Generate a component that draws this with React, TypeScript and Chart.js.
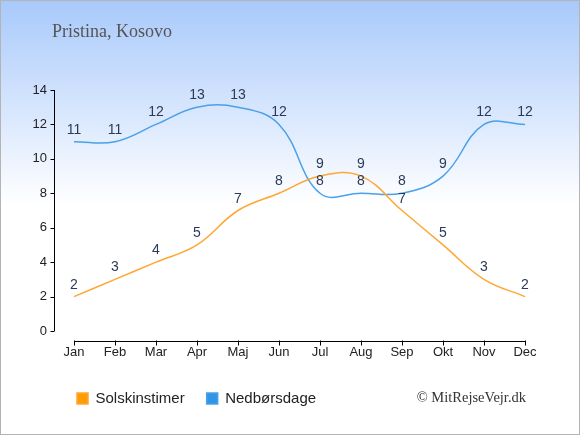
import { useEffect, useRef } from "react";
import { Chart, registerables } from "chart.js";

Chart.register(...registerables);

const months = ["Jan", "Feb", "Mar", "Apr", "Maj", "Jun", "Jul", "Aug", "Sep", "Okt", "Nov", "Dec"];
const sunHours = [2, 3, 4, 5, 7, 8, 9, 9, 7, 5, 3, 2];
const rainDays = [11, 11, 12, 13, 13, 12, 8, 8, 8, 9, 12, 12];
const yTicks = [0, 2, 4, 6, 8, 10, 12, 14];

const ORANGE = "#ffa733";
const BLUE = "#4aa0ea";
const SANS = "Arial, 'Liberation Sans', sans-serif";

// background, frame, title and copyright
const decorPlugin = {
  id: "decor",
  beforeDraw(chart: Chart) {
    const { ctx, width, height } = chart;
    ctx.save();
    const g = ctx.createLinearGradient(0, 0, 0, height);
    g.addColorStop(0, "#a8c9fb");
    g.addColorStop(0.47, "#ffffff");
    g.addColorStop(1, "#ffffff");
    ctx.fillStyle = g;
    ctx.fillRect(0, 0, width, height);
    ctx.strokeStyle = "#b4b4b4";
    ctx.lineWidth = 1;
    ctx.strokeRect(0.5, 0.5, width - 1, height - 1);
    ctx.fillStyle = "#555555";
    ctx.font = "18px 'Liberation Serif', serif";
    ctx.textBaseline = "alphabetic";
    ctx.textAlign = "left";
    ctx.fillText("Pristina, Kosovo", 52, 37);
    ctx.fillStyle = "#333333";
    ctx.font = "14.5px 'Liberation Serif', serif";
    ctx.textAlign = "right";
    ctx.fillText("\u00a9 MitRejseVejr.dk", 526, 402);
    ctx.restore();
  },
};

// axis lines that run from first to last tick, set off from the plot area
const axesPlugin = {
  id: "axes",
  afterDraw(chart: Chart) {
    const { ctx, scales, chartArea } = chart;
    const x = scales.x;
    const y = scales.y;
    const axisX = chartArea.left - 19.5;
    const axisY = chartArea.bottom + 10.5;
    ctx.save();
    ctx.strokeStyle = "#000000";
    ctx.lineWidth = 1;
    ctx.beginPath();
    ctx.moveTo(axisX, y.getPixelForValue(14));
    ctx.lineTo(axisX, y.getPixelForValue(0));
    yTicks.forEach((v) => {
      const py = Math.round(y.getPixelForValue(v)) + 0.5;
      ctx.moveTo(axisX - 4, py);
      ctx.lineTo(axisX, py);
    });
    ctx.moveTo(x.getPixelForValue(0), axisY);
    ctx.lineTo(x.getPixelForValue(months.length - 1), axisY);
    months.forEach((_, i) => {
      const px = Math.round(x.getPixelForValue(i)) + 0.5;
      ctx.moveTo(px, axisY - 1);
      ctx.lineTo(px, axisY + 4);
    });
    ctx.stroke();
    ctx.restore();
  },
};

// value labels above every point
const valueLabels = {
  id: "valueLabels",
  afterDatasetsDraw(chart: Chart) {
    const { ctx } = chart;
    ctx.save();
    ctx.fillStyle = "#2b3a58";
    ctx.font = "14px " + SANS;
    ctx.textAlign = "center";
    ctx.textBaseline = "alphabetic";
    chart.data.datasets.forEach((ds, di) => {
      const meta = chart.getDatasetMeta(di);
      meta.data.forEach((pt, i) => {
        ctx.fillText(String(ds.data[i]), pt.x, pt.y - 8);
      });
    });
    ctx.restore();
  },
};

export default function App() {
  const canvasRef = useRef<HTMLCanvasElement>(null);

  useEffect(() => {
    if (!canvasRef.current) return;
    const chart = new Chart(canvasRef.current, {
      type: "line",
      data: {
        labels: months,
        datasets: [
          {
            label: "Solskinstimer",
            data: sunHours,
            borderColor: ORANGE,
            backgroundColor: "#ff9d00",
            borderWidth: 1.5,
            tension: 0.4,
            pointRadius: 0,
          },
          {
            label: "Nedbørsdage",
            data: rainDays,
            borderColor: BLUE,
            backgroundColor: "#2f95e6",
            borderWidth: 1.5,
            tension: 0.4,
            pointRadius: 0,
          },
        ],
      },
      options: {
        responsive: true,
        maintainAspectRatio: false,
        animation: false,
        layout: { padding: { left: 55, right: 55, top: 90, bottom: 19 } },
        plugins: {
          title: { display: false },
          tooltip: { enabled: false },
          legend: {
            position: "bottom",
            align: "start",
            labels: {
              boxWidth: 11,
              boxHeight: 11,
              padding: 22,
              color: "#222222",
              font: { family: SANS, size: 15 },
            },
          },
        },
        scales: {
          x: {
            offset: false,
            grid: { display: false, drawTicks: false },
            border: { display: false },
            afterFit: (s) => {
              s.height = 38;
            },
            ticks: {
              padding: 14,
              color: "#222222",
              font: { family: SANS, size: 13 },
            },
          },
          y: {
            min: 0,
            max: 14,
            grid: { display: false, drawTicks: false },
            border: { display: false },
            afterFit: (s) => {
              s.width = 19;
            },
            ticks: {
              stepSize: 2,
              mirror: true,
              crossAlign: "far",
              padding: -41.5,
              color: "#222222",
              font: { family: SANS, size: 13 },
            },
          },
        },
      },
      plugins: [decorPlugin, axesPlugin, valueLabels],
    });
    return () => chart.destroy();
  }, []);

  return (
    <div style={{ position: "fixed", left: 0, top: 0, width: 580, height: 435 }}>
      <canvas ref={canvasRef} />
    </div>
  );
}
